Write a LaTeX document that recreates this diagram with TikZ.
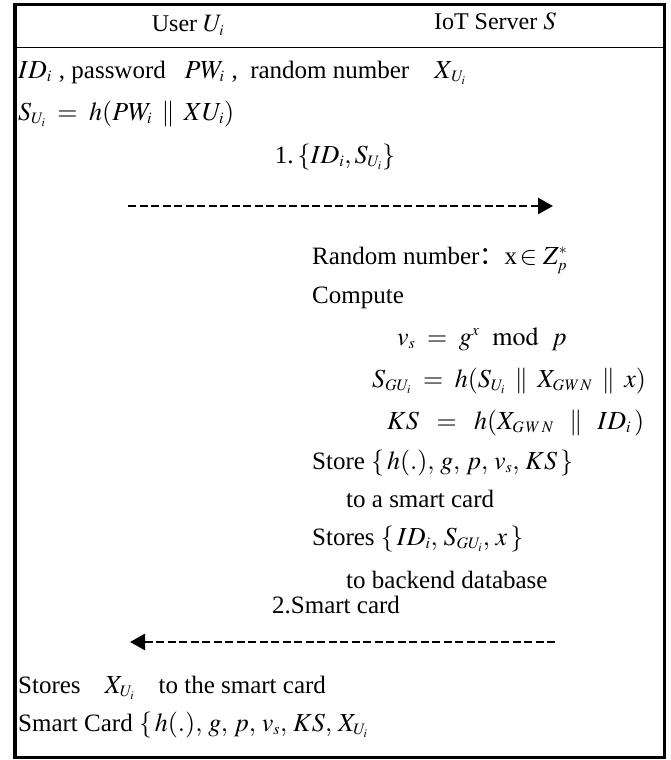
\documentclass[tikz,border=0pt]{standalone}
\usepackage{mathptmx}
\usepackage{fontspec}
\setmainfont{Liberation Serif}
\newfontfamily\cjk{Noto Sans CJK SC}
\usetikzlibrary{arrows.meta}
\DeclareMathSizes{25}{26}{16}{12}
\DeclareMathSizes{24}{25}{15}{11}
\newcommand\pp{\mathbin{\;\|\;}}
\newcommand\eqq{\mathrel{\;=\;}}
\newcommand\cm{,\,}
\newcommand\gwn{X_{G\mkern1mu W\mkern1mu N}}
\begin{document}
\begin{tikzpicture}[x=1pt,y=-1pt,
  txt/.style={anchor=base west,inner sep=0pt,font=\fontsize{25}{29}\selectfont},
  hdr/.style={anchor=base,inner sep=0pt,font=\fontsize{24}{28}\selectfont},
  msg/.style={line width=2.6pt,dash pattern=on 8pt off 3.5pt,-{Triangle[length=15pt,width=16pt]}}]
\useasboundingbox (0,0) rectangle (671,760);
\draw[line width=3.5pt] (15,4.5) rectangle (664.5,757.5);
\draw[line width=1.5pt] (15,47.5) -- (664.5,47.5);
\node[hdr] (hu) at (188,32) {User\ $U_i$};
\node[hdr] (hs) at (495,30) {IoT Server\ $S$};
\node[txt] (l1) at (18,78) {$ID_i\,$\,, password\ \ \ $PW_i\,$\,, \ random number\ \ \ \ $X_{\,U_i}$};
\node[txt] (l2) at (18,120) {$S_{U_i}\eqq h(PW_i\pp XU_i)$};
\node[txt,anchor=base] (m1) at (335,163) {1.\,$\{ID_i,S_{U_i}\}$};
\coordinate (a1s) at (128,206);
\coordinate (a1e) at (553,206);
\draw[msg] (a1s) -- (a1e);
\node[txt] (r1) at (312,264) {Random number{\cjk ：}x$\,\in Z_p^*$};
\node[txt] (r2) at (312,303) {Compute};
\node[txt] (r3) at (397,345) {$v_s\eqq g^x\; \bmod\; p$};
\node[txt] (r4) at (372,387) {$S_{GU_i}\eqq h(S_{U_i}\pp \gwn\pp x)$};
\node[txt] (r5) at (387,429) {$KS\mathrel{\;\;=\;\;}h(X_{G\mkern2mu W\mkern2mu N}\mathbin{\;\;\|\;\;}ID_i\,)$};
\node[txt] (r6) at (312,469) {Store $\{\,h(.)\cm g\cm p\cm v_s\cm KS\,\}$};
\node[txt] (r7) at (346,507) {to a smart card};
\node[txt] (r8) at (312,545) {Stores $\{\,ID_i\cm S_{GU_i}\cm x\,\}$};
\node[txt] (r9) at (346,588) {to backend database};
\node[txt] (m2) at (272,613) {2.Smart card};
\coordinate (a2s) at (555,642);
\coordinate (a2e) at (130,642);
\draw[msg] (a2s) -- (a2e);
\node[txt] (b1) at (18,693) {Stores\hspace{24pt}$X_{U_i}$\hspace{24pt}to the smart card};
\node[txt] (b2) at (18,731) {Smart Card $\{\,h(.)\cm g\cm p\cm v_s\cm KS\cm X_{U_i}$};
\end{tikzpicture}
\end{document}
